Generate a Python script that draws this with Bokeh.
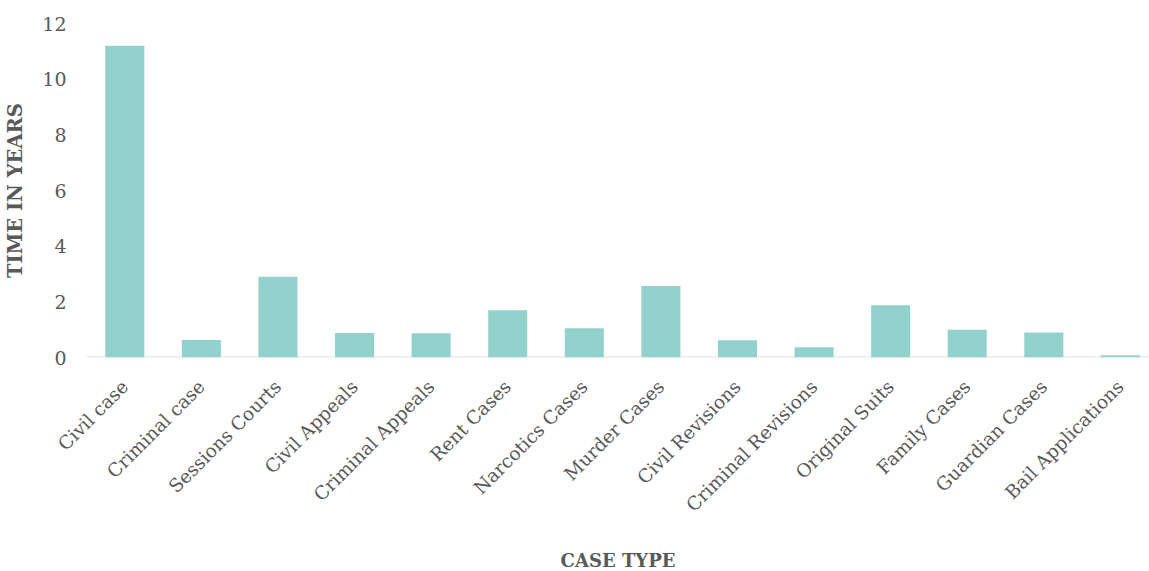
import math
from bokeh.plotting import figure
from bokeh.models import Range1d, FixedTicker, ColumnDataSource, Span
from bokeh.embed import file_html
from bokeh.resources import INLINE

# Average time taken per case type
case_types = [
    "Civil case", "Criminal case", "Sessions Courts", "Civil Appeals",
    "Criminal Appeals", "Rent Cases", "Narcotics Cases", "Murder Cases",
    "Civil Revisions", "Criminal Revisions", "Original Suits", "Family Cases",
    "Guardian Cases", "Bail Applications",
]
years = [11.2, 0.63, 2.9, 0.88, 0.87, 1.7, 1.05, 2.57, 0.62, 0.37, 1.88, 1.0, 0.9, 0.08]
y_ticks = [0, 2, 4, 6, 8, 10, 12]

FONT = "DejaVu Serif"
TEXT = "#595959"
BAR = "#93d2cc"

positions = list(range(len(case_types)))
src = ColumnDataSource(dict(x=positions, top=years))

p = figure(
    frame_width=1063, frame_height=334,
    x_range=Range1d(-0.5, 13.38), y_range=Range1d(0, 12),
    output_backend="svg", toolbar_location=None,
    min_border_left=86, min_border_top=23, min_border_right=0,
    min_border_bottom=0,
)

# baseline drawn beneath the bars
p.add_layout(Span(location=0, dimension="width", line_color="#e9eeee",
                  line_width=3, level="underlay"))

p.vbar(x="x", top="top", width=0.51, source=src, color=BAR, line_color=None)

p.xgrid.visible = False
p.ygrid.visible = False
p.outline_line_color = None
p.background_fill_color = "white"
p.border_fill_color = "white"

# x axis: category names, rotated
p.xaxis.ticker = FixedTicker(ticks=positions)
p.xaxis.major_label_overrides = {i: n for i, n in enumerate(case_types)}
p.xaxis.major_label_orientation = math.pi / 4
p.xaxis.major_label_text_font = FONT
p.xaxis.major_label_text_font_size = "18.5px"
p.xaxis.major_label_text_color = TEXT
p.xaxis.major_label_standoff = 20
p.xaxis.major_tick_line_color = None
p.xaxis.minor_tick_line_color = None
p.xaxis.axis_line_color = None
p.xaxis.axis_label = "CASE TYPE"
p.xaxis.axis_label_text_font = FONT
p.xaxis.axis_label_text_font_style = "bold"
p.xaxis.axis_label_text_font_size = "18px"
p.xaxis.axis_label_text_color = TEXT
p.xaxis.axis_label_standoff = 24

# y axis
p.yaxis.ticker = FixedTicker(ticks=y_ticks)
p.yaxis.major_label_text_font = FONT
p.yaxis.major_label_text_font_size = "19px"
p.yaxis.major_label_text_color = TEXT
p.yaxis.major_label_standoff = 14
p.yaxis.major_tick_line_color = None
p.yaxis.minor_tick_line_color = None
p.yaxis.axis_line_color = None
p.yaxis.axis_label = "TIME IN YEARS"
p.yaxis.axis_label_text_font = FONT
p.yaxis.axis_label_text_font_style = "bold"
p.yaxis.axis_label_text_font_size = "19.5px"
p.yaxis.axis_label_text_color = TEXT
p.yaxis.axis_label_standoff = 12

open("out.html", "w").write(file_html(p, INLINE))
